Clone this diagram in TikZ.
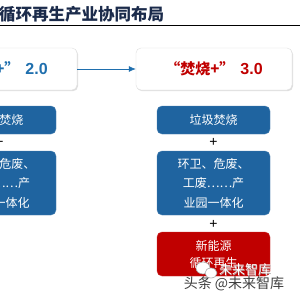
\documentclass[tikz,border=0pt]{standalone}
\usepackage{fontspec}
\setmainfont{Liberation Sans}
\newfontfamily\cjk{Noto Sans CJK SC}
\usetikzlibrary{arrows.meta,shadows}
\definecolor{bluebox}{HTML}{1F64A0}
\definecolor{redbox}{HTML}{C00000}
\definecolor{navy}{HTML}{1B2B4B}
\definecolor{bluetxt}{HTML}{1F6FAE}
\tikzset{
  topbox/.style={draw=gray!25, fill=white, rounded corners=5pt, minimum width=156pt, minimum height=42pt,
    drop shadow={opacity=0.25, shadow xshift=1pt, shadow yshift=-1.2pt}, inner sep=0pt},
  bluebx/.style={fill=bluebox, draw=bluebox!80!white, rounded corners=5pt, minimum width=113pt, text=white,
    font=\cjk\fontsize{12}{19.5}\selectfont, align=center, inner sep=0pt},
  redbx/.style={bluebx, fill=redbox, draw=redbox!80!white, font=\cjk\fontsize{12}{17}\selectfont},
  plus/.style={font=\fontsize{14}{14}\selectfont, inner sep=0pt},
  conn/.style={draw=bluetxt, line width=0.7pt, -{Latex[length=7pt,width=6pt]}}
}
\begin{document}
\begin{tikzpicture}[x=1pt,y=-1pt]
\useasboundingbox (0,0) rectangle (300,300);
\fill[white] (0,0) rectangle (300,300);
% title
\node[anchor=west, inner sep=0pt, text=navy, font=\cjk\bfseries\fontsize{16.5}{16.5}\selectfont] (title) at (-1,14) {循环再生产业协同布局};
\draw[line width=1pt] (0,25.5) -- (300,25.5);
% top boxes
\node[topbox] (L) at (-1,69) {\textcolor{bluetxt}{{\cjk\bfseries\fontsize{15}{15}\selectfont “焚烧+”}\hspace{6pt}{\bfseries\fontsize{16}{16}\selectfont 2.0}}};
\node[topbox] (R) at (214,69) {\textcolor{redbox}{{\cjk\bfseries\fontsize{15}{15}\selectfont “焚烧+”}\hspace{6pt}{\bfseries\fontsize{16}{16}\selectfont 3.0}}};
\draw[conn] (L.east) -- (R.west);
% right column
\node[bluebx, minimum height=28pt] (r1) at (213.5,120) {垃圾焚烧};
\node[plus] (rp1) at (213.5,142) {+};
\node[bluebx, minimum height=64pt] (r2) at (213.5,183) {环卫、危废、\\工废……产\\业园一体化};
\node[plus] (rp2) at (213.5,224) {+};
\node[redbx, minimum height=44pt] (r3) at (213.5,254) {新能源\\循环再生};
% left column
\node[bluebx, minimum height=28pt] (l1) at (-0.5,120) {垃圾焚烧};
\node[plus] (lp1) at (-0.5,142) {+};
\node[bluebx, minimum height=64pt] (l2) at (-0.5,183) {环卫、危废、\\工废……产\\业园一体化};
% watermark
\draw[gray!70, fill=white, line width=0.6pt] (203,268) ellipse (7pt and 6pt);
\draw[gray!70, fill=white, line width=0.6pt] (211,273) ellipse (6pt and 5pt);
\node[inner sep=0pt, text=gray!60, font=\cjk\fontsize{13}{13}\selectfont] (wm1s) at (245.6,270.6) {未来智库};
\node[inner sep=0pt, text=white, font=\cjk\fontsize{13}{13}\selectfont] (wm1) at (245,270) {未来智库};
\node[inner sep=0pt, text=black!75, font=\cjk\fontsize{14}{14}\selectfont] (wm2) at (234,284) {头条 @未来智库};
\end{tikzpicture}
\end{document}
